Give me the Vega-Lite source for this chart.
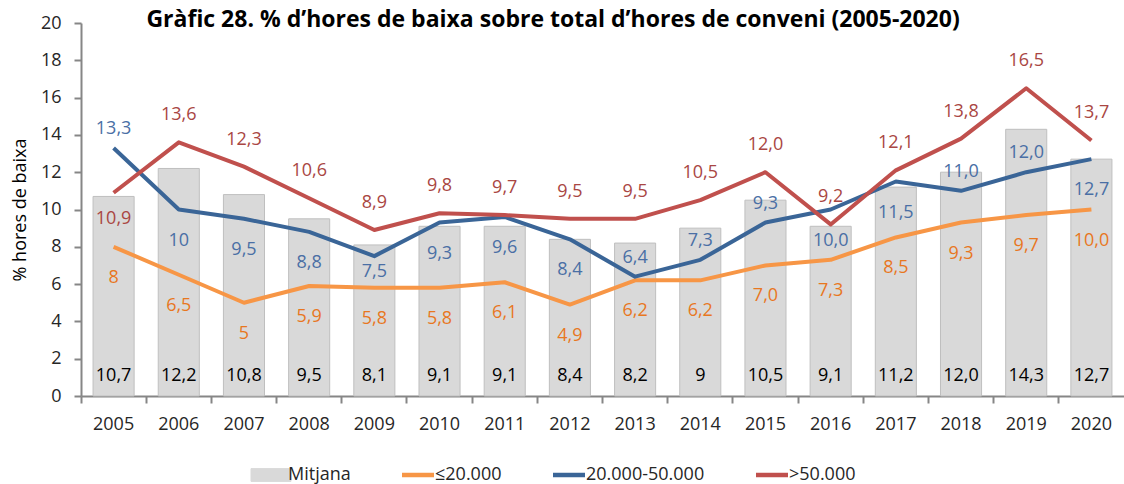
{
  "$schema": "https://vega.github.io/schema/vega-lite/v6.json",
  "width": 1043,
  "height": 373,
  "autosize": {"type": "none"},
  "padding": {"left": 81, "top": 23, "right": 0, "bottom": 88},
  "background": "white",
  "config": {
    "font": "Open Sans",
    "view": {"stroke": null},
    "axis": {"grid": false},
    "axisY": {"domainColor": "#868686", "domainWidth": 2, "tickColor": "#868686", "tickWidth": 2, "tickSize": 7,
              "labelFontSize": 18, "labelColor": "#262626", "labelPadding": 13, "labelFont": "Open Sans",
              "titleFontSize": 18, "titleFontWeight": "normal", "titleColor": "#000000", "titlePadding": 11,
              "titleFont": "Open Sans"}
  },
  "title": {
    "text": "Gràfic 28. % d’hores de baixa sobre total d’hores de conveni (2005-2020)",
    "anchor": "start",
    "dx": 135,
    "offset": -36,
    "baseline": "alphabetic",
    "fontSize": 23,
    "fontWeight": "bold",
    "color": "#000000",
    "font": "Open Sans"
  },
  "data": {
    "values": [
      {"year": "2005", "series": "Mitjana", "value": 10.7, "label": "10,7"},
      {"year": "2006", "series": "Mitjana", "value": 12.2, "label": "12,2"},
      {"year": "2007", "series": "Mitjana", "value": 10.8, "label": "10,8"},
      {"year": "2008", "series": "Mitjana", "value": 9.5, "label": "9,5"},
      {"year": "2009", "series": "Mitjana", "value": 8.1, "label": "8,1"},
      {"year": "2010", "series": "Mitjana", "value": 9.1, "label": "9,1"},
      {"year": "2011", "series": "Mitjana", "value": 9.1, "label": "9,1"},
      {"year": "2012", "series": "Mitjana", "value": 8.4, "label": "8,4"},
      {"year": "2013", "series": "Mitjana", "value": 8.2, "label": "8,2"},
      {"year": "2014", "series": "Mitjana", "value": 9.0, "label": "9"},
      {"year": "2015", "series": "Mitjana", "value": 10.5, "label": "10,5"},
      {"year": "2016", "series": "Mitjana", "value": 9.1, "label": "9,1"},
      {"year": "2017", "series": "Mitjana", "value": 11.2, "label": "11,2"},
      {"year": "2018", "series": "Mitjana", "value": 12.0, "label": "12,0"},
      {"year": "2019", "series": "Mitjana", "value": 14.3, "label": "14,3"},
      {"year": "2020", "series": "Mitjana", "value": 12.7, "label": "12,7"},
      {"year": "2005", "series": "≤20.000", "value": 8.0, "label": "8"},
      {"year": "2006", "series": "≤20.000", "value": 6.5, "label": "6,5"},
      {"year": "2007", "series": "≤20.000", "value": 5.0, "label": "5"},
      {"year": "2008", "series": "≤20.000", "value": 5.9, "label": "5,9"},
      {"year": "2009", "series": "≤20.000", "value": 5.8, "label": "5,8"},
      {"year": "2010", "series": "≤20.000", "value": 5.8, "label": "5,8"},
      {"year": "2011", "series": "≤20.000", "value": 6.1, "label": "6,1"},
      {"year": "2012", "series": "≤20.000", "value": 4.9, "label": "4,9"},
      {"year": "2013", "series": "≤20.000", "value": 6.2, "label": "6,2"},
      {"year": "2014", "series": "≤20.000", "value": 6.2, "label": "6,2"},
      {"year": "2015", "series": "≤20.000", "value": 7.0, "label": "7,0"},
      {"year": "2016", "series": "≤20.000", "value": 7.3, "label": "7,3"},
      {"year": "2017", "series": "≤20.000", "value": 8.5, "label": "8,5"},
      {"year": "2018", "series": "≤20.000", "value": 9.3, "label": "9,3"},
      {"year": "2019", "series": "≤20.000", "value": 9.7, "label": "9,7"},
      {"year": "2020", "series": "≤20.000", "value": 10.0, "label": "10,0"},
      {"year": "2005", "series": "20.000-50.000", "value": 13.3, "label": "13,3"},
      {"year": "2006", "series": "20.000-50.000", "value": 10.0, "label": "10"},
      {"year": "2007", "series": "20.000-50.000", "value": 9.5, "label": "9,5"},
      {"year": "2008", "series": "20.000-50.000", "value": 8.8, "label": "8,8"},
      {"year": "2009", "series": "20.000-50.000", "value": 7.5, "label": "7,5"},
      {"year": "2010", "series": "20.000-50.000", "value": 9.3, "label": "9,3"},
      {"year": "2011", "series": "20.000-50.000", "value": 9.6, "label": "9,6"},
      {"year": "2012", "series": "20.000-50.000", "value": 8.4, "label": "8,4"},
      {"year": "2013", "series": "20.000-50.000", "value": 6.4, "label": "6,4"},
      {"year": "2014", "series": "20.000-50.000", "value": 7.3, "label": "7,3"},
      {"year": "2015", "series": "20.000-50.000", "value": 9.3, "label": "9,3"},
      {"year": "2016", "series": "20.000-50.000", "value": 10.0, "label": "10,0"},
      {"year": "2017", "series": "20.000-50.000", "value": 11.5, "label": "11,5"},
      {"year": "2018", "series": "20.000-50.000", "value": 11.0, "label": "11,0"},
      {"year": "2019", "series": "20.000-50.000", "value": 12.0, "label": "12,0"},
      {"year": "2020", "series": "20.000-50.000", "value": 12.7, "label": "12,7"},
      {"year": "2005", "series": ">50.000", "value": 10.9, "label": "10,9"},
      {"year": "2006", "series": ">50.000", "value": 13.6, "label": "13,6"},
      {"year": "2007", "series": ">50.000", "value": 12.3, "label": "12,3"},
      {"year": "2008", "series": ">50.000", "value": 10.6, "label": "10,6"},
      {"year": "2009", "series": ">50.000", "value": 8.9, "label": "8,9"},
      {"year": "2010", "series": ">50.000", "value": 9.8, "label": "9,8"},
      {"year": "2011", "series": ">50.000", "value": 9.7, "label": "9,7"},
      {"year": "2012", "series": ">50.000", "value": 9.5, "label": "9,5"},
      {"year": "2013", "series": ">50.000", "value": 9.5, "label": "9,5"},
      {"year": "2014", "series": ">50.000", "value": 10.5, "label": "10,5"},
      {"year": "2015", "series": ">50.000", "value": 12.0, "label": "12,0"},
      {"year": "2016", "series": ">50.000", "value": 9.2, "label": "9,2"},
      {"year": "2017", "series": ">50.000", "value": 12.1, "label": "12,1"},
      {"year": "2018", "series": ">50.000", "value": 13.8, "label": "13,8"},
      {"year": "2019", "series": ">50.000", "value": 16.5, "label": "16,5"},
      {"year": "2020", "series": ">50.000", "value": 13.7, "label": "13,7"}
    ]
  },
  "resolve": {"axis": {"x": "independent"}},
  "encoding": {
    "y": {
      "field": "value", "type": "quantitative",
      "scale": {"domain": [0, 20], "nice": false},
      "axis": {"values": [0, 2, 4, 6, 8, 10, 12, 14, 16, 18, 20], "title": "% hores de baixa"}
    }
  },
  "layer": [
    {
      "transform": [{"filter": "datum.series === 'Mitjana'"}],
      "mark": {"type": "bar", "width": {"band": 0.63}, "stroke": "#BFBFBF", "strokeWidth": 1},
      "encoding": {
        "x": {
          "field": "year", "type": "nominal",
          "scale": {"paddingInner": 0, "paddingOuter": 0},
          "axis": {"title": null, "orient": "bottom", "labelAngle": 0, "ticks": false, "domain": true,
                   "domainColor": "#868686", "domainWidth": 2, "labelFontSize": 18, "labelColor": "#262626",
                   "labelPadding": 19, "labelFont": "Open Sans"}
        },
        "color": {
          "field": "series", "type": "nominal",
          "scale": {"domain": ["Mitjana", "≤20.000", "20.000-50.000", ">50.000"],
                    "range": ["#D9D9D9", "#F79646", "#3A6597", "#C0504D"]},
          "legend": {
            "title": null, "orient": "none", "direction": "horizontal", "legendX": 181, "legendY": 443,
            "symbolSize": 1024, "labelFontSize": 18, "labelColor": "#262626",
            "labelFont": "Open Sans",
            "columnPadding": 42, "labelOffset": 8,
            "encode": {
              "symbols": {"update": {
                "shape": {"signal": "datum.value === 'Mitjana' ? 'M-1.25,-0.4H1.25V0.4H-1.25Z' : 'stroke'"},
                "fill": {"signal": "datum.value === 'Mitjana' ? '#D9D9D9' : 'transparent'"},
                "stroke": {"signal": "datum.value === 'Mitjana' ? '#BFBFBF' : scale('color', datum.value)"},
                "strokeWidth": {"signal": "datum.value === 'Mitjana' ? 1 : 4.5"},
                "opacity": {"value": 1}
              }}
            }
          }
        }
      }
    },
    {
      "transform": [{"filter": "datum.series !== 'Mitjana'"}],
      "mark": {"type": "line", "strokeWidth": 4, "strokeJoin": "round"},
      "encoding": {
        "x": {
          "field": "year", "type": "nominal",
          "axis": {"orient": "bottom", "title": null, "labels": false, "domain": false, "ticks": true,
                   "bandPosition": 0, "tickSize": 7, "tickColor": "#868686", "tickWidth": 2}
        },
        "color": {
          "field": "series", "type": "nominal",
          "legend": {
            "title": null, "orient": "none", "direction": "horizontal", "legendX": 181, "legendY": 443,
            "symbolSize": 1024, "labelFontSize": 18, "labelColor": "#262626",
            "labelFont": "Open Sans",
            "columnPadding": 42, "labelOffset": 8,
            "encode": {
              "symbols": {"update": {
                "shape": {"signal": "datum.value === 'Mitjana' ? 'M-1.25,-0.4H1.25V0.4H-1.25Z' : 'stroke'"},
                "fill": {"signal": "datum.value === 'Mitjana' ? '#D9D9D9' : 'transparent'"},
                "stroke": {"signal": "datum.value === 'Mitjana' ? '#BFBFBF' : scale('color', datum.value)"},
                "strokeWidth": {"signal": "datum.value === 'Mitjana' ? 1 : 4.5"},
                "opacity": {"value": 1}
              }}
            }
          }
        }
      }
    },
    {
      "transform": [{"filter": "datum.series === 'Mitjana'"}],
      "mark": {"type": "text", "dy": -20, "fontSize": 18, "color": "#000000", "baseline": "middle"},
      "encoding": {
        "x": {"field": "year", "type": "nominal", "axis": null},
        "y": {"datum": 0, "type": "quantitative"},
        "text": {"field": "label"}
      }
    },
    {
      "transform": [{"filter": "datum.series === '≤20.000'"}],
      "mark": {"type": "text", "dy": 31, "fontSize": 18, "color": "#E8771F", "baseline": "middle"},
      "encoding": {
        "x": {"field": "year", "type": "nominal", "axis": null},
        "text": {"field": "label"}
      }
    },
    {
      "transform": [{"filter": "datum.series === '20.000-50.000' && indexof(['2005','2009','2013','2014','2015','2018','2019'], datum.year) < 0"}],
      "mark": {"type": "text", "dy": 31, "fontSize": 18, "color": "#4A6FA5", "baseline": "middle"},
      "encoding": {
        "x": {"field": "year", "type": "nominal", "axis": null},
        "text": {"field": "label"}
      }
    },
    {
      "transform": [{"filter": "datum.series === '20.000-50.000' && indexof(['2005','2013','2014','2015','2018','2019'], datum.year) >= 0"}],
      "mark": {"type": "text", "dy": -19, "fontSize": 18, "color": "#4A6FA5", "baseline": "middle"},
      "encoding": {
        "x": {"field": "year", "type": "nominal", "axis": null},
        "text": {"field": "label"}
      }
    },
    {
      "transform": [{"filter": "datum.series === '20.000-50.000' && datum.year === '2009'"}],
      "mark": {"type": "text", "dy": 16, "fontSize": 18, "color": "#4A6FA5", "baseline": "middle"},
      "encoding": {
        "x": {"field": "year", "type": "nominal", "axis": null},
        "text": {"field": "label"}
      }
    },
    {
      "transform": [{"filter": "datum.series === '>50.000' && datum.year !== '2005'"}],
      "mark": {"type": "text", "dy": -27, "fontSize": 18, "color": "#A94643", "baseline": "middle"},
      "encoding": {
        "x": {"field": "year", "type": "nominal", "axis": null},
        "text": {"field": "label"}
      }
    },
    {
      "transform": [{"filter": "datum.series === '>50.000' && datum.year === '2005'"}],
      "mark": {"type": "text", "dy": 26, "fontSize": 18, "color": "#A94643", "baseline": "middle"},
      "encoding": {
        "x": {"field": "year", "type": "nominal", "axis": null},
        "text": {"field": "label"}
      }
    }
  ]
}
